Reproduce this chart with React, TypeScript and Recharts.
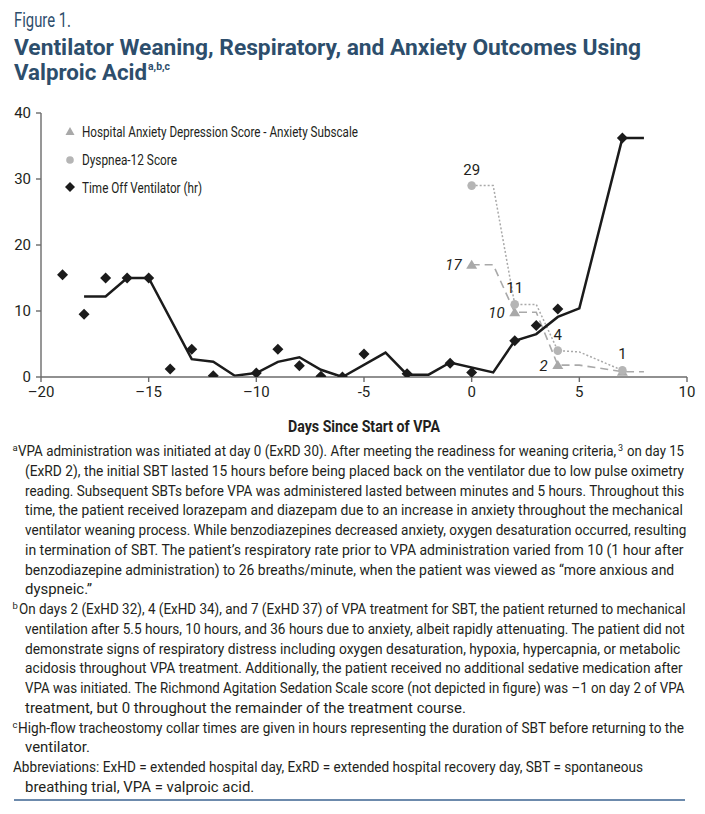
import React, { useLayoutEffect, useRef, useState } from 'react';
import { ComposedChart, Line, Scatter, XAxis, YAxis, Legend, Label } from 'recharts';

// Time off ventilator (hr), one diamond per day
const ventDays = [-19, -18, -17, -16, -15, -14, -13, -12, -10, -9, -8, -7, -6, -5, -3, -1, 0, 2, 3, 4, 7];
const ventHours = [15.5, 9.5, 15, 15, 15, 1.2, 4.2, 0.2, 0.6, 4.2, 1.7, 0.1, 0, 3.5, 0.5, 2.1, 0.7, 5.5, 7.8, 10.3, 36.2];

// black trend line (moving average)
const trendDays = [-18, -17, -16, -15, -13, -12, -11, -10, -9, -8, -7, -6, -4, -3, -2, -1, 1, 2, 3, 4, 5, 7, 8];
const trendHours = [12.2, 12.2, 15, 15, 2.7, 2.3, 0.2, 0.6, 2.3, 3.0, 1.1, 0, 3.7, 0.35, 0.35, 2.2, 0.7, 5.5, 6.5, 9.1, 10.4, 36.2, 36.2];

// HADS anxiety subscale
const hadsDays = [0, 2, 4, 7];
const hadsScores = [17, 9.8, 1.8, 0.8];
const hadsLabels = ['17', '10', '2', ''];
const hadsPathDays = [0, 1, 2, 3, 4, 5, 7, 8];
const hadsPathScores = [17, 17, 9.8, 9.8, 1.8, 1.8, 0.8, 0.8];

// Dyspnea-12
const dysDays = [0, 2, 4, 7];
const dysScores = [29, 11, 4, 1];
const dysLabels = ['29', '11', '4', '1'];
const dysPathDays = [0, 1, 2, 3, 4, 5, 7];
const dysPathScores = [29, 29, 11, 11, 4, 3.8, 1];

const xTicks = [-20, -15, -10, -5, 0, 5, 10];
const xTickLabels = ['\u201320', '\u201315', '\u201310', '-5', '0', '5', '10'];
const yTicks = [0, 10, 20, 30, 40];

const legendNames = [
  'Hospital Anxiety Depression Score - Anxiety Subscale',
  'Dyspnea-12 Score',
  'Time Off Ventilator (hr)',
];
const legendWidths = [276, 95, 120];

// full lines are fitted to their right edge; end 0 = last line of a paragraph, natural width
const footLines = [
  { sup: 'a', text: 'VPA administration was initiated at day 0 (ExRD 30). After meeting the readiness for weaning criteria,', x: 18, end: 616, sup2: '3', tail: 'on day 15' },
  { text: '(ExRD 2), the initial SBT lasted 15 hours before being placed back on the ventilator due to low pulse oximetry', x: 25, end: 684 },
  { text: 'reading. Subsequent SBTs before VPA was administered lasted between minutes and 5 hours. Throughout this', x: 25, end: 684 },
  { text: 'time, the patient received lorazepam and diazepam due to an increase in anxiety throughout the mechanical', x: 25, end: 683 },
  { text: 'ventilator weaning process. While benzodiazepines decreased anxiety, oxygen desaturation occurred, resulting', x: 25, end: 686 },
  { text: 'in termination of SBT. The patient\u2019s respiratory rate prior to VPA administration varied from 10 (1 hour after', x: 25, end: 683 },
  { text: 'benzodiazepine administration) to 26 breaths/minute, when the patient was viewed as \u201cmore anxious and', x: 25, end: 674 },
  { text: 'dyspneic.\u201d', x: 25, end: 0 },
  { sup: 'b', text: 'On days 2 (ExHD 32), 4 (ExHD 34), and 7 (ExHD 37) of VPA treatment for SBT, the patient returned to mechanical', x: 19, end: 685 },
  { text: 'ventilation after 5.5 hours, 10 hours, and 36 hours due to anxiety, albeit rapidly attenuating. The patient did not', x: 25, end: 684 },
  { text: 'demonstrate signs of respiratory distress including oxygen desaturation, hypoxia, hypercapnia, or metabolic', x: 25, end: 680 },
  { text: 'acidosis throughout VPA treatment. Additionally, the patient received no additional sedative medication after', x: 25, end: 682 },
  { text: 'VPA was initiated. The Richmond Agitation Sedation Scale score (not depicted in figure) was \u20131 on day 2 of VPA', x: 25, end: 684 },
  { text: 'treatment, but 0 throughout the remainder of the treatment course.', x: 25, end: 0 },
  { sup: 'c', text: 'High-flow tracheostomy collar times are given in hours representing the duration of SBT before returning to the', x: 18, end: 684 },
  { text: 'ventilator.', x: 25, end: 0 },
  { text: 'Abbreviations: ExHD = extended hospital day, ExRD = extended hospital recovery day, SBT = spontaneous', x: 13, end: 643 },
  { text: 'breathing trial, VPA = valproic acid.', x: 25, end: 0 },
];

const FONT = "Roboto, 'Open Sans', sans-serif";
const NAVY = '#2d4e6c';
const INK = '#231f20';
const GRAY = '#a9a9a9';
const SHORT_SCALE = 1.03;

const toPts = (xs: number[], ys: number[], labels?: string[]) =>
  xs.map((x, i) => ({ x, y: ys[i], label: labels ? labels[i] : '' }));

const ventData = toPts(ventDays, ventHours);
const trendData = toPts(trendDays, trendHours);
const hadsData = toPts(hadsDays, hadsScores, hadsLabels);
const hadsPath = toPts(hadsPathDays, hadsPathScores);
const dysData = toPts(dysDays, dysScores, dysLabels);
const dysPath = toPts(dysPathDays, dysPathScores);

// text squeezed horizontally so it spans exactly `width` px
const FitText = ({ x, y, width, size, children }: any) => {
  const ref = useRef<SVGTextElement>(null);
  const [sx, setSx] = useState(width ? 0.88 : SHORT_SCALE);
  useLayoutEffect(() => {
    if (!width || !ref.current) return;
    const natural = ref.current.getComputedTextLength();
    if (natural > 0) setSx(width / natural);
  }, [width]);
  return (
    <text ref={ref} transform={`translate(${x},${y}) scale(${sx},1)`} fontSize={size}>
      {children}
    </text>
  );
};

const DiamondMark = (p: any) => {
  const { cx, cy } = p;
  if (cx == null || cy == null) return null;
  const r = 5.5;
  return <polygon points={`${cx},${cy - r} ${cx + r},${cy} ${cx},${cy + r} ${cx - r},${cy}`} fill="#1b1b1b" />;
};

const TriangleMark = (p: any) => {
  const { cx, cy, payload } = p;
  if (cx == null || cy == null) return null;
  return (
    <g>
      <polygon points={`${cx},${cy - 5} ${cx + 5.5},${cy + 4} ${cx - 5.5},${cy + 4}`} fill={GRAY} />
      {payload && payload.label ? (
        <text x={cx - 10} y={cy + 5.5} textAnchor="end" fontStyle="italic" fontSize={15} fill={INK} fontFamily={FONT}>
          {payload.label}
        </text>
      ) : null}
    </g>
  );
};

const CircleMark = (p: any) => {
  const { cx, cy, payload } = p;
  if (cx == null || cy == null) return null;
  return (
    <g>
      <circle cx={cx} cy={cy} r={4.3} fill="#b5b5b5" />
      {payload && payload.label ? (
        <text x={cx} y={cy - 11} textAnchor="middle" fontSize={15} fill={INK} fontFamily={FONT}>
          {payload.label}
        </text>
      ) : null}
    </g>
  );
};

const legendIcon = (i: number) => {
  if (i === 0) return <polygon points="10,7 14.5,15 5.5,15" fill={GRAY} />;
  if (i === 1) return <circle cx={10} cy={40} r={3.8} fill="#b5b5b5" />;
  return <polygon points="10,62 15,67 10,72 5,67" fill="#1b1b1b" />;
};

const LegendBox = () => (
  <svg width={310} height={85} style={{ display: 'block', overflow: 'visible' }}>
    {legendNames.map((name, i) => (
      <g key={name}>
        {legendIcon(i)}
        <text
          x={22}
          y={12 + i * 28 + 5}
          fontSize={15}
          fill={INK}
          fontFamily={FONT}
          textLength={legendWidths[i]}
          lengthAdjust="spacingAndGlyphs"
        >
          {name}
        </text>
      </g>
    ))}
  </svg>
);

const AxisTitle = (props: any) => {
  const vb = props.viewBox || { x: 41, y: 287, width: 646, height: 60 };
  return (
    <text
      x={vb.x + vb.width / 2}
      y={vb.y + 55}
      textAnchor="middle"
      fontSize={16}
      fontWeight={700}
      fill={INK}
      fontFamily={FONT}
      textLength={152}
      lengthAdjust="spacingAndGlyphs"
    >
      Days Since Start of VPA
    </text>
  );
};

export default function App() {
  return (
    <div style={{ position: 'relative', width: 705, height: 814, marginLeft: -8, marginTop: -8, background: '#fff', overflow: 'hidden' }}>
      <svg width={705} height={90} style={{ position: 'absolute', left: 0, top: 0 }}>
        <text x={14} y={27} fontSize={20} fill={NAVY} fontFamily={FONT} textLength={57} lengthAdjust="spacingAndGlyphs">
          Figure 1.
        </text>
        <text x={14} y={55} fontSize={22} fontWeight={700} fill={NAVY} fontFamily={FONT} textLength={627} lengthAdjust="spacingAndGlyphs">
          Ventilator Weaning, Respiratory, and Anxiety Outcomes Using
        </text>
        <text x={14} y={80} fontSize={22} fontWeight={700} fill={NAVY} fontFamily={FONT} textLength={133} lengthAdjust="spacingAndGlyphs">
          Valproic Acid
        </text>
        <text x={148} y={70} fontSize={11} fontWeight={700} fill={NAVY} fontFamily={FONT} textLength={22} lengthAdjust="spacingAndGlyphs">
          a,b,c
        </text>
      </svg>

      <div style={{ position: 'absolute', left: 0, top: 90 }}>
        <ComposedChart width={705} height={350} margin={{ top: 23, right: 18, bottom: 3, left: 0 }}>
          <XAxis
            type="number"
            dataKey="x"
            domain={[-20, 10]}
            ticks={xTicks}
            allowDataOverflow
            tickFormatter={(v: number) => xTickLabels[xTicks.indexOf(v)] ?? String(v)}
            height={60}
            tickSize={5}
            tickMargin={4}
            stroke="#6b6b6b"
            strokeWidth={1.4}
            tick={{ fill: INK, fontSize: 15, fontFamily: FONT }}
          >
            <Label content={<AxisTitle />} />
          </XAxis>
          <YAxis
            type="number"
            dataKey="y"
            domain={[0, 40]}
            ticks={yTicks}
            allowDataOverflow
            width={41}
            tickSize={5}
            tickMargin={5}
            stroke="#6b6b6b"
            strokeWidth={1.4}
            tick={{ fill: INK, fontSize: 15, fontFamily: FONT }}
          />
          <Legend
            layout="vertical"
            align="center"
            verticalAlign="middle"
            content={() => <LegendBox />}
            wrapperStyle={{ left: 60, top: 30, width: 310, height: 85 }}
          />
          <Line data={dysPath} dataKey="y" type="linear" stroke={GRAY} strokeWidth={1.5} strokeDasharray="2 2" dot={false} legendType="none" isAnimationActive={false} />
          <Line data={hadsPath} dataKey="y" type="linear" stroke={GRAY} strokeWidth={1.6} strokeDasharray="8 5" dot={false} legendType="none" isAnimationActive={false} />
          <Line data={trendData} dataKey="y" type="linear" stroke="#1b1b1b" strokeWidth={2.5} dot={false} legendType="none" isAnimationActive={false} />
          <Scatter name={legendNames[0]} data={hadsData} dataKey="y" fill={GRAY} shape={<TriangleMark />} legendType="triangle" isAnimationActive={false} />
          <Scatter name={legendNames[1]} data={dysData} dataKey="y" fill="#b5b5b5" shape={<CircleMark />} legendType="circle" isAnimationActive={false} />
          <Scatter name={legendNames[2]} data={ventData} dataKey="y" fill="#1b1b1b" shape={<DiamondMark />} legendType="diamond" isAnimationActive={false} />
        </ComposedChart>
      </div>

      <svg width={705} height={374} style={{ position: 'absolute', left: 0, top: 440 }}>
        {footLines.map((ln, i) => {
          const y = 16 + i * 19.76;
          const tailW = ln.tail ? 57 : 0;
          return (
            <g key={i} fontFamily={FONT} fill={INK}>
              {ln.sup ? (
                <text x={12.5} y={y - 5} fontSize={9.5}>
                  {ln.sup}
                </text>
              ) : null}
              <FitText x={ln.x} y={y} width={ln.end > 0 ? ln.end - ln.x : 0} size={14.5}>
                {ln.text}
              </FitText>
              {ln.sup2 ? (
                <text x={ln.end + 2} y={y - 5.5} fontSize={9}>
                  {ln.sup2}
                </text>
              ) : null}
              {ln.tail ? (
                <FitText x={684 - tailW} y={y} width={tailW} size={14.5}>
                  {ln.tail}
                </FitText>
              ) : null}
            </g>
          );
        })}
        <line x1={14} x2={685} y1={360} y2={360} stroke="#3b6391" strokeWidth={1.5} />
      </svg>
    </div>
  );
}
